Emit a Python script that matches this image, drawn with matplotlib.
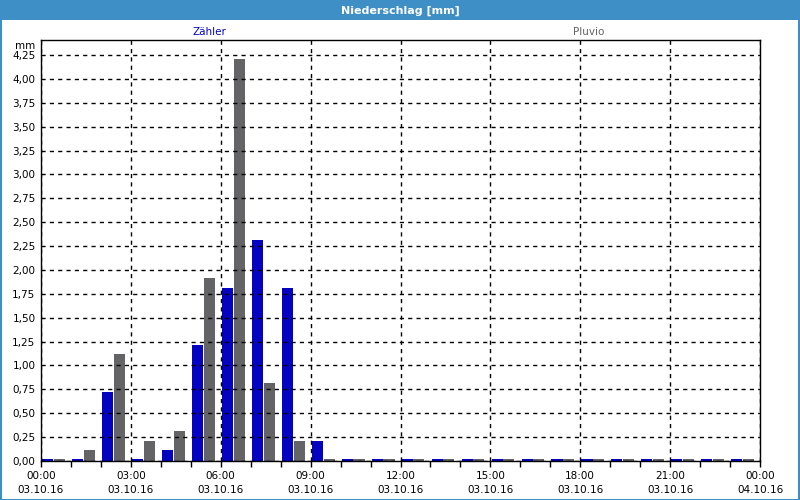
import matplotlib
matplotlib.use("Agg")
import matplotlib.pyplot as plt
from matplotlib.patches import Rectangle
from matplotlib.ticker import MultipleLocator, FuncFormatter
import numpy as np

hours = list(range(24))
zaehler = [0.02, 0.02, 0.72, 0.02, 0.11, 1.21, 1.81, 2.31, 1.81, 0.21,
           0.02, 0.02, 0.02, 0.02, 0.02, 0.02, 0.02, 0.02, 0.02, 0.02,
           0.02, 0.02, 0.02, 0.02]
pluvio = [0.02, 0.12, 1.12, 0.21, 0.31, 1.92, 4.21, 0.82, 0.21, 0.02,
          0.02, 0.02, 0.02, 0.02, 0.02, 0.02, 0.02, 0.02, 0.02, 0.02,
          0.02, 0.02, 0.02, 0.02]
xtick_labels = ["00:00\n03.10.16", "03:00\n03.10.16", "06:00\n03.10.16",
                "09:00\n03.10.16", "12:00\n03.10.16", "15:00\n03.10.16",
                "18:00\n03.10.16", "21:00\n03.10.16", "00:00\n04.10.16"]
series_names = ["Zähler", "Pluvio"]
title = "Niederschlag [mm]"

BLUE = "#0404c0"
GRAY = "#646366"
BAR_BLUE = "#3d8fc6"

W, H = 800, 500
fig = plt.figure(figsize=(8, 5), dpi=100, facecolor="white")

# title bar and border
fig.patches.append(Rectangle((0, 1 - 20 / H), 1, 20 / H, transform=fig.transFigure,
                             facecolor=BAR_BLUE, edgecolor="none", zorder=0))
fig.patches.append(Rectangle((0.5 / W, 0.5 / H), 1 - 1.5 / W, 1 - 1.5 / H, transform=fig.transFigure,
                             facecolor="none", edgecolor=BAR_BLUE, lw=1.5, zorder=1))
fig.text(0.5, 1 - 10.5 / H, title, color="white", fontsize=8, fontweight="bold",
         ha="center", va="center", family="DejaVu Sans")

left, right, top, bottom = 41, 760, 40, 461
ax = fig.add_axes([left / W, 1 - bottom / H, (right - left) / W, (bottom - top) / H])

x = np.array(hours, dtype=float)
bw = 0.37
ax.bar(x + 0.04, zaehler, width=bw, align="edge", color=BLUE, zorder=1)
ax.bar(x + 0.43, pluvio, width=bw, align="edge", color=GRAY, zorder=1)

ymax = 4.25 + 15 / ((bottom - 55) / 4.25)
ax.set_xlim(0, 24)
ax.set_ylim(0, ymax)

ax.xaxis.set_major_locator(MultipleLocator(3))
ax.xaxis.set_minor_locator(MultipleLocator(1))
ax.set_xticks(np.arange(0, 25, 3))
ax.set_xticklabels(xtick_labels, fontsize=7.5, linespacing=1.55)
ax.yaxis.set_major_locator(MultipleLocator(0.25))
ax.yaxis.set_major_formatter(FuncFormatter(lambda v, p: f"{v:.2f}".replace(".", ",")))
ax.tick_params(axis="y", labelsize=7.5, length=0, pad=4)
ax.tick_params(axis="x", which="major", length=4, width=1, pad=3, direction="out")
ax.tick_params(axis="x", which="minor", length=4, width=1, direction="out")

ax.set_axisbelow(False)
ax.grid(True, which="major", color="black", linestyle=(0, (3, 3)), linewidth=1, zorder=2)
for s in ax.spines.values():
    s.set_linewidth(1.0)
    s.set_color("black")
    s.set_zorder(3)

fig.text((left - 6) / W, 1 - 46 / H, "mm", fontsize=7.5, ha="right", va="center")
fig.text(209 / W, 1 - 32 / H, series_names[0], color=BLUE, fontsize=7.5, ha="center", va="center")
fig.text(589 / W, 1 - 32 / H, series_names[1], color=GRAY, fontsize=7.5, ha="center", va="center")

fig.savefig("out.png", dpi=100, facecolor="white")
